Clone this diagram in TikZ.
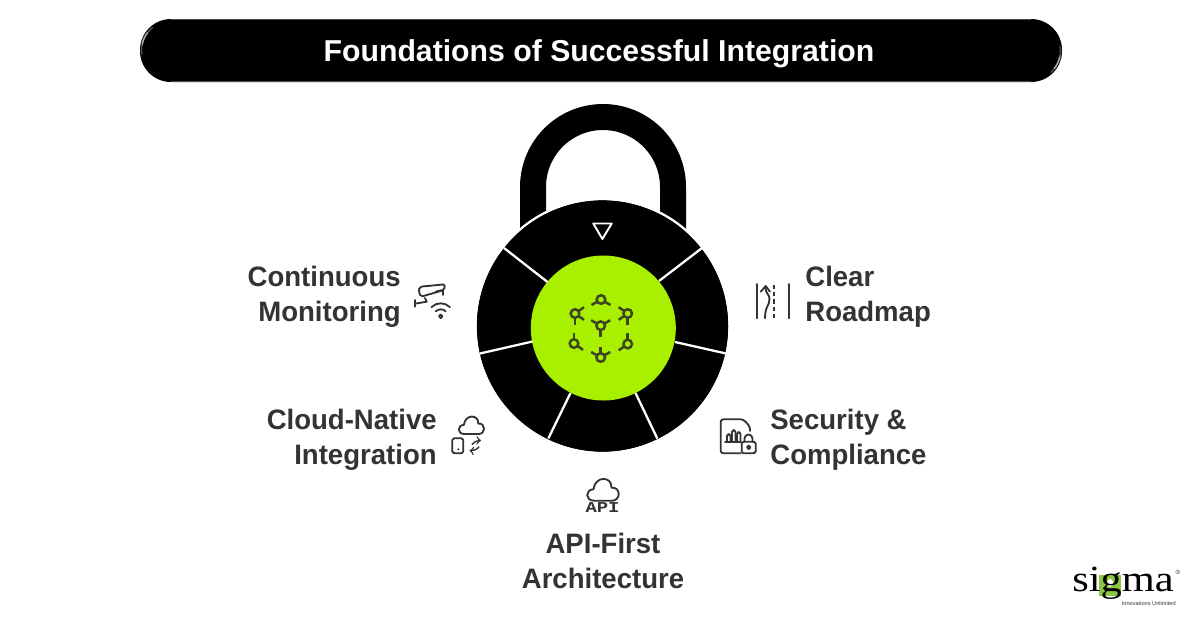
\documentclass[tikz,border=0pt]{standalone}
\usepackage{fontspec}
\setmainfont{Liberation Sans}
\newfontfamily\labelfont[FakeStretch=0.98]{Liberation Sans}
\newfontfamily\apifont[FakeStretch=1.25]{Liberation Mono}
\newfontfamily\logofont[FakeStretch=1.15]{Liberation Serif}
\definecolor{limegreen}{HTML}{A9F000}
\definecolor{labelgray}{HTML}{333333}
\definecolor{hubgray}{HTML}{3D4420}
\definecolor{logogreen}{HTML}{8CC63F}
\tikzset{
  cloudicon/.pic={
    \draw[iconline] (-9,0) .. controls (-18,0) and (-18,-11) .. (-9.5,-11.5)
      .. controls (-8,-25) and (9,-25) .. (8.5,-13)
      .. controls (18,-14) and (18,0) .. (9,0) -- cycle;
  }
}
\begin{document}
\begin{tikzpicture}[x=0.02cm,y=-0.02cm]
    \tikzstyle{iconline}=[draw=labelgray,line width=1.05pt,line cap=round,line join=round]
    \tikzstyle{divider}=[draw=white,line width=1.3pt]
    \tikzstyle{hubline}=[draw=hubgray,line width=1.4pt]
    \tikzstyle{label}=[text=labelgray,font=\fontsize{16}{19.9}\labelfont\bfseries,inner sep=0pt]
    \useasboundingbox (0,0) rectangle (1200,627);

    \fill[black,rounded corners=0.62cm] (140,19) rectangle (1062,82);
    \draw[gray,line width=0.4pt,opacity=0.6] (171,19.5) -- (1031,19.5);
    \draw[gray,line width=0.4pt,opacity=0.6] (171,81.5) -- (1031,81.5);
    \draw[white,line width=0.9pt,opacity=0.3] (171,50.5) ++(232:29.5) arc[start angle=232,end angle=172,radius=29.5];
    \draw[white,line width=0.9pt,opacity=0.5] (171,50.5) ++(218:29.5) arc[start angle=218,end angle=192,radius=29.5];
    \draw[white,line width=0.9pt,opacity=0.3] (1031,50.5) ++(48:29.5) arc[start angle=48,end angle=-8,radius=29.5];
    \draw[white,line width=0.9pt,opacity=0.5] (1031,50.5) ++(38:29.5) arc[start angle=38,end angle=12,radius=29.5];
    \node[text=white,font=\fontsize{17.2}{20}\selectfont\bfseries,inner sep=0pt] (title) at (599,54) {Foundations of Successful Integration};

    \draw[black,line width=0.52cm] (533,235) -- (533,187) arc[start angle=180,end angle=360,radius=70] -- (673,235);
    \fill[black] (602.5,326) circle (126);
    \draw[divider] (602.5,326) circle (127);
    \fill[limegreen] (603.3,328) circle (72.5);

    \draw[divider] (504,248) -- (547.5,282);
    \draw[divider] (702,248) -- (659,281);
    \draw[divider] (480,353.5) -- (532.5,341.5);
    \draw[divider] (726,353.5) -- (675,342);
    \draw[divider] (548.3,438.5) -- (570.5,393);
    \draw[divider] (657.3,438.5) -- (635.5,393);
    \draw[white,line width=1.1pt,line join=round] (593.3,223.5) -- (611.7,223.5) -- (602.4,239) -- cycle;

    \foreach \hx/\hy/\hangs in {601/299.5/{30,150},575/313.5/{90,-35,35},627.7/313.5/{90,215,145},600.7/325.7/{90,210,330},574/343.5/{270,35},627.7/344/{270,145},600.7/357.5/{270,210,330}}{
      \draw[hubline] (\hx,\hy) circle (4.3);
      \foreach \hang in \hangs
        \draw[hubline] (\hx,\hy) ++(\hang:4.3) -- ++(\hang:6.7);
    }

    \node[label,anchor=east,align=right] (monitoring) at (401,296.5) {Continuous\\Monitoring};
    \node[label,anchor=west,align=left] (roadmap) at (805,296.5) {Clear\\Roadmap};
    \node[label,anchor=east,align=right] (cloudnative) at (437,440) {Cloud-Native\\Integration};
    \node[label,anchor=west,align=left] (security) at (770,440) {Security \&\\Compliance};
    \node[label,align=center] (apifirst) at (603,560.5) {API-First\\Architecture};

    % camera and wifi
    \draw[iconline,rounded corners=1pt] (420,286.7) -- (445,284.3) -- (444,290) -- (421,296.7) -- (418.5,291) -- cycle;
    \draw[iconline] (436,291.5) -- (443,290) -- (443,295);
    \draw[iconline] (425,298) -- (426.7,301.7) -- (416,303.5);
    \draw[iconline] (415,300) -- (415,306.7);
    \draw[iconline] (440.7,316.3) circle (1.8);
    \draw[iconline] (440.7,316.3) ++(225:7) arc[start angle=225,end angle=315,radius=7];
    \draw[iconline] (440.7,316.3) ++(225:13) arc[start angle=225,end angle=315,radius=13];

    % cloud and phone
    \pic[scale=0.8] at (471.5,434) {cloudicon};
    \draw[iconline,rounded corners=1pt] (452.3,438.3) rectangle (463.3,453.3);
    \fill[labelgray] (458.3,449.3) circle (1.1);
    \draw[iconline,line width=0.8pt,->] (472,444.5) to[bend left=25] (481,440.5);
    \draw[iconline,line width=0.8pt,->] (479,447) to[bend left=25] (469.5,450.5);

    % road
    \draw[iconline] (756.7,284) -- (756.7,318.3);
    \draw[iconline] (789.3,284) -- (789.3,318.3);
    \draw[iconline,line cap=butt,dash pattern=on 2.4pt off 1.7pt] (773.7,285) -- (773.7,318.3);
    \draw[iconline] (765,318.3) .. controls (765,306) and (769.5,306) .. (769.5,299) .. controls (769.5,294) and (765.5,294) .. (765.5,287);
    \draw[iconline] (760.7,291.7) -- (765.7,286) -- (770,291.7);

    % document and lock
    \draw[iconline,rounded corners=1.5pt] (740.7,453.3) -- (720.7,453.3) -- (720.7,419.3) -- (743.3,419.3) -- (750,426.7) -- (750,431);
    \draw[iconline] (725,441.7) -- (741,441.7);
    \foreach \bx/\btop in {727/434,732/430,737/432}
      \draw[iconline,rounded corners=1pt] (\bx,441.7) -- (\bx,\btop) -- (\bx+3.5,\btop) -- (\bx+3.5,441.7);
    \draw[iconline,rounded corners=1pt] (741.7,441.7) rectangle (755.7,453.3);
    \draw[iconline] (744.5,441.7) -- (744.5,438.5) arc[start angle=180,end angle=360,radius=4] -- (752.5,441.7);
    \draw[iconline] (748.7,447.3) circle (1.8);

    % api cloud
    \pic at (603,500.7) {cloudicon};
    \node[text=labelgray,font=\fontsize{8.6}{9}\apifont\bfseries,inner sep=0pt] (apitag) at (602.5,508) {API};

    % logo
    \fill[logogreen] (1099,575) rectangle (1121,596);
    \fill[white] (1110,583) ellipse (3 and 4);
    \node[text=black,font=\fontsize{21}{21}\logofont,inner sep=0pt,anchor=base west] (sigmalogo) at (1072,591) {sigma};
    \node[text=labelgray,font=\fontsize{3.2}{4}\selectfont,inner sep=0pt,anchor=east] (tagline) at (1176,603.5) {Innovations Unlimited};
    \node[text=labelgray,font=\fontsize{3.5}{4}\selectfont,inner sep=0pt] (regmark) at (1178,572) {®};
\end{tikzpicture}
\end{document}
